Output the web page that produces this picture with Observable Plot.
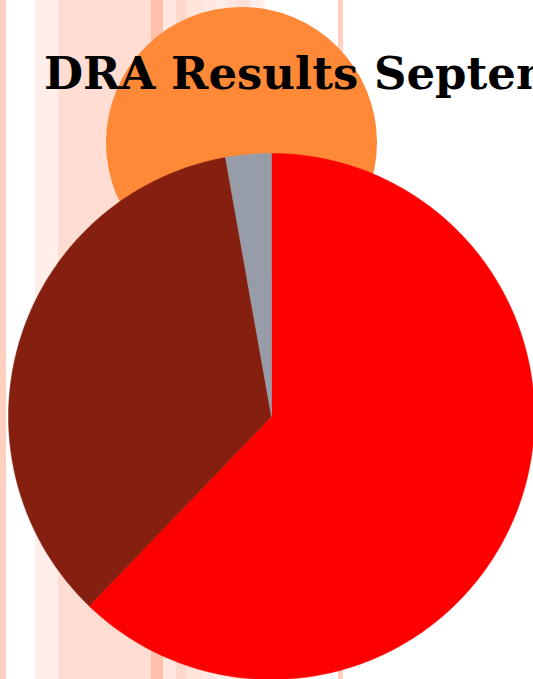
<!DOCTYPE html>
<html>
<head>
<meta charset="utf-8">
<script src="https://cdn.jsdelivr.net/npm/d3@7"></script>
<script src="https://cdn.jsdelivr.net/npm/@observablehq/plot@0.6"></script>
<style>
  html, body { margin: 0; padding: 0; width: 533px; height: 679px; overflow: hidden; background: #fff; }
  #stage {
    position: relative; width: 533px; height: 679px; overflow: hidden;
    background: linear-gradient(to right,
      #FFCFC0 0 6px, #FFFFFF 6px 35px, #FFEEEA 35px 58px, #FFDDD2 58px 151px,
      #FFC0AA 151px 163px, #FFE6DE 163px 176px, #FFD8CC 176px 186px,
      #FFE4DC 186px 203px, #FFE8E2 203px 217px, #FFEFEB 217px 225px,
      #FFE6DE 225px 235px, #FFE0D6 235px 250px, #FFEEEA 250px 265px,
      #FFFFFF 265px 338px, #FFD0C0 338px 343px, #FFFFFF 343px 533px);
  }
  #disc { position: absolute; left: 106px; top: 7px; width: 271px; height: 271px; border-radius: 50%; background: #FF8937; }
  #chart { position: absolute; left: 0; top: 0; }
  #title { position: absolute; left: 44px; top: 44px; white-space: nowrap; font-family: "DejaVu Serif", serif; font-weight: bold; font-size: 45px; line-height: 60px; color: #000; }
</style>
</head>
<body>
<div id="stage">
  <div id="disc"></div>
  <div id="chart"></div>
  <div id="title">DRA Results September</div>
</div>
<script>
// Data
const categories = ["Met", "Not met", "Other"];
const values = [62.2, 35.0, 2.8];
const colors = ["#FF0000", "#852010", "#969CA8"];

const slices = d3.pie().sort(null)(values);
const points = [];
slices.forEach((s, i) => {
  const steps = Math.max(2, Math.ceil((s.endAngle - s.startAngle) / 0.01));
  points.push({cat: categories[i], color: colors[i], x: 0, y: 0});
  for (let k = 0; k <= steps; k++) {
    const a = s.startAngle + (s.endAngle - s.startAngle) * k / steps;
    points.push({cat: categories[i], color: colors[i], x: Math.sin(a), y: Math.cos(a)});
  }
  points.push({cat: categories[i], color: colors[i], x: 0, y: 0});
});

const chart = Plot.plot({
  width: 533,
  height: 679,
  margin: 0,
  style: {background: "transparent", overflow: "visible"},
  x: {domain: [-1, 1], range: [8, 534], axis: null},
  y: {domain: [-1, 1], range: [679, 153], axis: null},
  color: {type: "identity"},
  marks: [
    Plot.line(points, {x: "x", y: "y", z: "cat", fill: "color", stroke: "color", strokeWidth: 0.5, curve: "linear"})
  ]
});
document.getElementById("chart").appendChild(chart);
</script>
</body>
</html>
